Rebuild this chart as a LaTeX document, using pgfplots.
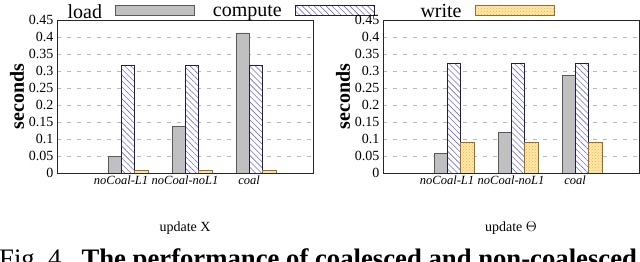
\documentclass[border=0pt]{standalone}
\usepackage{pgfplots}
\pgfplotsset{compat=1.18}
\usepackage{fontspec}
\setmainfont{Liberation Serif}
\usetikzlibrary{patterns,patterns.meta}
\definecolor{loadfill}{RGB}{192,192,192}
\definecolor{loaddraw}{RGB}{90,90,90}
\definecolor{compline}{RGB}{110,110,235}
\definecolor{compdraw}{RGB}{30,30,70}
\definecolor{wrfill}{RGB}{255,232,170}
\definecolor{wrdot}{RGB}{245,180,70}
\definecolor{wrdraw}{RGB}{150,110,40}
\pgfplotsset{
  mybase/.style={
    scale only axis, width=256pt, height=153pt,
    anchor=south west,
    ybar=0pt, bar width=13.3pt,
    xmin=-1.11, xmax=2.89, ymin=0, ymax=0.45,
    xtick={0,1,2},
    xticklabels={noCoal-L1,noCoal-noL1,coal},
    ytick={0,0.05,0.1,0.15,0.2,0.25,0.3,0.35,0.4,0.45},
    yticklabels={0,0.05,0.1,0.15,0.2,0.25,0.3,0.35,0.4,0.45},
    major tick length=0pt,
    tick style={draw=none},
    ymajorgrids,
    major grid style={gray!55, line width=0.6pt, dash pattern=on 4pt off 6pt},
    axis line style={black!85, line width=0.9pt},
    yticklabel style={font=\fontsize{14}{16}\selectfont},
    xticklabel style={font=\itshape\fontsize{12.5}{14}\selectfont, anchor=base, yshift=-12pt, xshift=-7pt},
    ylabel={seconds},
    ylabel style={font=\bfseries\fontsize{20}{24}\selectfont, at={(axis description cs:-0.156,0.5)}, anchor=center, rotate=0},
    xlabel style={font=\fontsize{14}{16}\selectfont, at={(axis description cs:0.5,-0.36)}, anchor=center},
    every axis plot post/.append style={legend image code/.code={\draw[##1] (0pt,-3pt) rectangle (79pt,7pt);}},
  },
  loadst/.style={fill=loadfill, draw=loaddraw, line width=0.8pt},
  compst/.style={fill=white, draw=compdraw, line width=0.8pt, postaction={pattern={Lines[angle=-45,distance=4.2pt,line width=0.6pt]}, pattern color=compline}},
  writest/.style={fill=wrfill, draw=wrdraw, line width=0.8pt, postaction={pattern=crosshatch dots, pattern color=wrdot}},
}
\begin{document}
\begin{tikzpicture}
\useasboundingbox (0,0) rectangle (640pt,262pt);
\begin{axis}[mybase, at={(57pt,89pt)}, xlabel={update X},
  legend columns=3, legend plot pos=right,
  legend style={draw=none, fill=none, inner sep=0pt, outer sep=0pt,
    at={(axis description cs:-0.1133,1.052)}, anchor=west,
    column sep=13pt, font=\fontsize{20}{24}\selectfont,
    nodes={text width=74pt, align=right, inner sep=0pt}},
]
\addplot[loadst] coordinates {(0,0.048) (1,0.138) (2,0.412)};
\addplot[compst] coordinates {(0,0.315) (1,0.315) (2,0.315)};
\addplot[writest] coordinates {(0,0.007) (1,0.007) (2,0.007)};
\legend{load,compute,write}
\end{axis}
\begin{axis}[mybase, at={(383pt,89pt)}, xlabel={update $\Theta$}]
\addplot[loadst] coordinates {(0,0.058) (1,0.120) (2,0.288)};
\addplot[compst] coordinates {(0,0.323) (1,0.323) (2,0.323)};
\addplot[writest] coordinates {(0,0.090) (1,0.090) (2,0.090)};
\end{axis}
\node[overlay, anchor=base west, inner sep=0pt, font=\fontsize{26.7}{30}\selectfont] at (-1pt,-6pt) {Fig.~4.\hspace{0.5em}\textbf{The performance of coalesced and non-coalesced memory}};
\end{tikzpicture}
\end{document}
